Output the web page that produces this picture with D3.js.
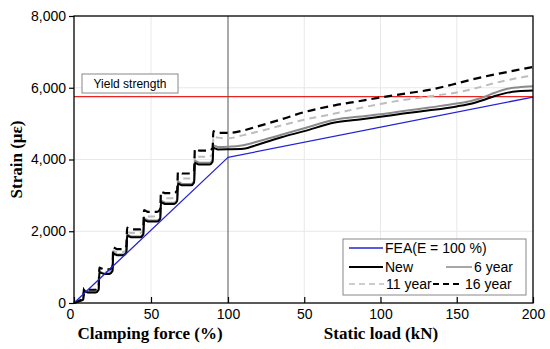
<!DOCTYPE html>
<html>
<head>
<meta charset="utf-8">
<script src="https://cdn.jsdelivr.net/npm/d3@7"></script>
<style>
  html, body { margin: 0; padding: 0; background: #fff; }
  svg { display: block; font-family: Arial, "Liberation Sans", sans-serif; }
</style>
</head>
<body>
<div id="chart"></div>
<script>
// clamping stage, x = clamping force (%)
const clampX = [0, 4, 6, 6.5, 7.5, 9.5, 14, 16, 16.5, 17.5, 19.5, 23, 25, 25.5, 26.5, 28.5, 32, 34, 34.5, 35.5, 37.5, 43, 45, 45.5, 46.5, 48.5, 54, 56, 56.5, 57.5, 59.5, 65, 67, 67.5, 68.5, 70.5, 76, 78, 78.5, 79.5, 81.5, 88, 90, 90.5, 91.5, 93.5, 100];
const newClamp = [0, 60, 100, 340, 320, 290, 290, 370, 860, 840, 810, 810, 890, 1380, 1360, 1330, 1330, 1410, 1880, 1860, 1830, 1830, 1910, 2320, 2300, 2270, 2270, 2350, 2810, 2790, 2760, 2760, 2840, 3330, 3310, 3280, 3280, 3360, 3910, 3890, 3860, 3860, 3940, 4330, 4310, 4280, 4285];
const yr6Clamp = [0, 60, 100, 360, 340, 300, 300, 380, 880, 860, 825, 825, 905, 1400, 1380, 1350, 1350, 1430, 1910, 1890, 1855, 1855, 1935, 2360, 2340, 2300, 2300, 2380, 2850, 2830, 2795, 2795, 2875, 3380, 3360, 3320, 3320, 3400, 3970, 3950, 3910, 3910, 3990, 4400, 4380, 4350, 4357];
const yr11Clamp = [0, 70, 110, 380, 360, 330, 330, 410, 910, 890, 870, 870, 950, 1460, 1440, 1420, 1420, 1500, 1990, 1970, 1950, 1950, 2030, 2450, 2430, 2410, 2410, 2490, 2960, 2940, 2920, 2920, 3000, 3510, 3490, 3470, 3470, 3550, 4120, 4100, 4080, 4080, 4160, 4650, 4630, 4610, 4590];
const yr16Clamp = [0, 80, 120, 420, 400, 370, 370, 450, 990, 970, 940, 940, 1020, 1550, 1530, 1500, 1500, 1580, 2100, 2080, 2050, 2050, 2130, 2590, 2570, 2540, 2540, 2620, 3110, 3090, 3060, 3060, 3140, 3660, 3640, 3610, 3610, 3690, 4300, 4280, 4250, 4250, 4330, 4790, 4770, 4740, 4740];

// static load stage, x = load (kN)
const loadX = [0, 10, 20, 35, 50, 70, 85, 100, 115, 132, 150, 160, 167, 175, 182, 190, 200];
const newLoad = [4285, 4300, 4420, 4620, 4790, 5030, 5110, 5190, 5280, 5370, 5480, 5560, 5650, 5770, 5850, 5900, 5920];
const yr6Load = [4357, 4400, 4510, 4690, 4870, 5110, 5190, 5260, 5350, 5450, 5560, 5640, 5730, 5860, 5960, 6010, 6040];
const yr11Load = [4590, 4680, 4780, 4950, 5110, 5280, 5420, 5550, 5660, 5760, 5870, 5960, 6040, 6130, 6200, 6270, 6340];
const yr16Load = [4740, 4810, 4930, 5120, 5320, 5510, 5620, 5730, 5830, 5940, 6120, 6230, 6300, 6370, 6430, 6500, 6580];

// FEA
const feaClampX = [0, 100];
const feaClamp = [0, 4060];
const feaLoadX = [0, 200];
const feaLoad = [4060, 5740];

const yieldStrength = 5750;

const yTicks = [0, 2000, 4000, 6000, 8000];
const clampTicks = [0, 50, 100];
const loadTicks = [50, 100, 150, 200];

const width = 550, height = 349;
const margin = { top: 16, right: 17, bottom: 46, left: 74 };
const plotRight = width - margin.right;
const plotBottom = height - margin.bottom;

const svg = d3.select("#chart").append("svg")
  .attr("width", width)
  .attr("height", height);

const xc = d3.scaleLinear().domain([0, 100]).range([margin.left, 228]);
const xl = d3.scaleLinear().domain([0, 200]).range([228, plotRight]);
const y = d3.scaleLinear().domain([0, 8000]).range([plotBottom, margin.top]);

// grid
const grid = svg.append("g").attr("stroke", "#e8e8e8").attr("stroke-width", 1);
[2000, 4000, 6000].forEach((v) => {
  grid.append("line")
    .attr("x1", margin.left).attr("x2", plotRight)
    .attr("y1", y(v)).attr("y2", y(v));
});
[xc(50), xl(50), xl(100), xl(150)].forEach((px) => {
  grid.append("line")
    .attr("x1", px).attr("x2", px)
    .attr("y1", margin.top).attr("y2", plotBottom);
});

// yield line + label box
svg.append("line")
  .attr("x1", margin.left).attr("x2", plotRight)
  .attr("y1", y(yieldStrength)).attr("y2", y(yieldStrength))
  .attr("stroke", "#e8261f").attr("stroke-width", 1.3);

svg.append("rect")
  .attr("x", 82).attr("y", 74).attr("width", 96).attr("height", 19)
  .attr("fill", "#fff").attr("stroke", "#888").attr("stroke-width", 1);
svg.append("text")
  .attr("x", 130).attr("y", 88)
  .attr("text-anchor", "middle")
  .attr("font-size", "12px")
  .text("Yield strength");

// separator between clamping and static load
svg.append("line")
  .attr("x1", xc(100)).attr("x2", xc(100))
  .attr("y1", margin.top).attr("y2", plotBottom)
  .attr("stroke", "#555").attr("stroke-width", 1);

// series
function points(cx, cy, lx, ly) {
  const a = cx.map((x, i) => [xc(x), y(cy[i])]);
  const b = lx.map((x, i) => [xl(x), y(ly[i])]);
  return a.concat(b.filter((p) => p[0] > a[a.length - 1][0] + 0.01));
}

const smooth = d3.line().curve(d3.curveMonotoneX);
const straight = d3.line();

const series = [
  { name: "11 year", pts: points(clampX, yr11Clamp, loadX, yr11Load), color: "#bdbdbd", w: 2, dash: "7,5", line: smooth },
  { name: "6 year", pts: points(clampX, yr6Clamp, loadX, yr6Load), color: "#8a8a8a", w: 2, dash: null, line: smooth },
  { name: "New", pts: points(clampX, newClamp, loadX, newLoad), color: "#000", w: 2, dash: null, line: smooth },
  { name: "16 year", pts: points(clampX, yr16Clamp, loadX, yr16Load), color: "#000", w: 2.2, dash: "8,5", line: smooth },
  { name: "FEA", pts: points(feaClampX, feaClamp, feaLoadX, feaLoad).concat([[xl(200), y(feaLoad[1])]]), color: "#2424d4", w: 1.3, dash: null, line: straight }
];

svg.append("g")
  .selectAll("path")
  .data(series)
  .join("path")
  .attr("d", (d) => d.line(d.pts))
  .attr("fill", "none")
  .attr("stroke", (d) => d.color)
  .attr("stroke-width", (d) => d.w)
  .attr("stroke-dasharray", (d) => d.dash)
  .attr("stroke-linejoin", "round");

// frame
svg.append("rect")
  .attr("x", margin.left).attr("y", margin.top)
  .attr("width", plotRight - margin.left).attr("height", plotBottom - margin.top)
  .attr("fill", "none").attr("stroke", "#000").attr("stroke-width", 1.3);

// axes
const yAxis = svg.append("g")
  .attr("transform", `translate(${margin.left},0)`)
  .call(d3.axisLeft(y).tickValues(yTicks).tickFormat(d3.format(",")).tickSize(5).tickPadding(3));
yAxis.select(".domain").remove();

const xAxisC = svg.append("g")
  .attr("transform", `translate(0,${plotBottom})`)
  .call(d3.axisBottom(xc).tickValues(clampTicks).tickSize(-6).tickPadding(6));
xAxisC.select(".domain").remove();
xAxisC.selectAll(".tick text").filter((d) => d === 0).attr("dx", "-4px");

const xAxisL = svg.append("g")
  .attr("transform", `translate(0,${plotBottom})`)
  .call(d3.axisBottom(xl).tickValues(loadTicks).tickSize(-6).tickPadding(6));
xAxisL.select(".domain").remove();

svg.selectAll(".tick text")
  .attr("font-family", "Arial, 'Liberation Sans', sans-serif")
  .attr("font-size", "14px")
  .attr("fill", "#000");
svg.selectAll(".tick line").attr("stroke", "#000").attr("stroke-width", 1.2);

// axis titles
const titleFont = "'Times New Roman', 'Liberation Serif', serif";
svg.append("text")
  .attr("x", 150).attr("y", 339)
  .attr("text-anchor", "middle")
  .attr("font-family", titleFont)
  .attr("font-weight", "bold")
  .attr("font-size", "17px")
  .text("Clamping force (%)");
svg.append("text")
  .attr("x", 381).attr("y", 339)
  .attr("text-anchor", "middle")
  .attr("font-family", titleFont)
  .attr("font-weight", "bold")
  .attr("font-size", "17px")
  .text("Static load (kN)");
svg.append("text")
  .attr("transform", `translate(22,${(margin.top + plotBottom) / 2}) rotate(-90)`)
  .attr("text-anchor", "middle")
  .attr("font-family", titleFont)
  .attr("font-weight", "bold")
  .attr("font-size", "17px")
  .text("Strain (με)");

// legend
const legend = svg.append("g");
legend.append("rect")
  .attr("x", 343).attr("y", 239).attr("width", 183).attr("height", 56)
  .attr("fill", "#fff").attr("stroke", "#888").attr("stroke-width", 1);

const legendItems = [
  { label: "FEA(E = 100 %)", x1: 349, x2: 383, ly: 248, color: "#2424d4", w: 1.3, dash: null },
  { label: "New", x1: 349, x2: 383, ly: 267, color: "#000", w: 2, dash: null },
  { label: "6 year", x1: 446, x2: 472, ly: 267, color: "#8a8a8a", w: 1.5, dash: null },
  { label: "11 year", x1: 349, x2: 384, ly: 284, color: "#bdbdbd", w: 1.5, dash: "6,4" },
  { label: "16 year", x1: 433, x2: 463, ly: 284, color: "#000", w: 2, dash: "6,4" }
];

const li = legend.selectAll("g.item").data(legendItems).join("g").attr("class", "item");
li.append("line")
  .attr("x1", (d) => d.x1).attr("x2", (d) => d.x2)
  .attr("y1", (d) => d.ly).attr("y2", (d) => d.ly)
  .attr("stroke", (d) => d.color)
  .attr("stroke-width", (d) => d.w)
  .attr("stroke-dasharray", (d) => d.dash);
li.append("text")
  .attr("x", (d) => d.x2 + 2)
  .attr("y", (d) => d.ly + 5)
  .attr("font-size", "14px")
  .text((d) => d.label);
</script>
</body>
</html>
